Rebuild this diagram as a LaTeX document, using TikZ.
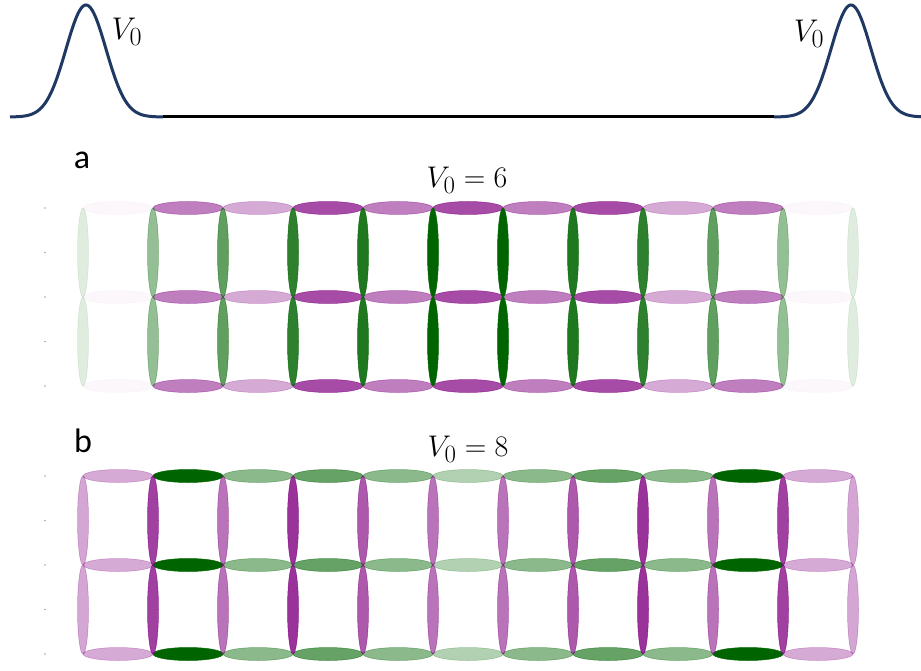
\documentclass[tikz,border=0pt]{standalone}
\usepackage{fontspec}
\newfontfamily\panelfont{Carlito}
\usepackage{tikz}
\usetikzlibrary{calc}
\definecolor{CurveNavy} {HTML}{1F3864}
\definecolor{BondPurple}{HTML}{800080}
\definecolor{BondGreen} {HTML}{006400}

\begin{document}
\begin{tikzpicture}[
  x=1pt, y=-1pt,
  hbond/.style={line width=0.5pt},
  vbond/.style={line width=0.5pt},
  tick/.style={fill=gray!70},
  vlabel/.style={font=\Huge, scale=1.2, inner sep=0pt},
]
\useasboundingbox (0,0) rectangle (921,671);

% Potential: two barriers and a flat well
\coordinate (wellL) at (163,117);
\coordinate (wellR) at (774,117);
\draw[CurveNavy, line width=3pt, domain=10:163, samples=120]
  plot (\x, {117-112*exp(-0.5*((\x-86)/20)^2)});
\draw[CurveNavy, line width=3pt, domain=774:921, samples=120]
  plot (\x, {117-112*exp(-0.5*((\x-851)/20)^2)});
\draw[black, line width=3pt] (wellL) -- (wellR);
\node[vlabel, scale=1.05] (barL) at (127,32) {$V_0$};
\node[vlabel, scale=1.05] (barR) at (809,34) {$V_0$};

% Panel labels
\node[font=\panelfont\fontsize{34}{38}\selectfont, inner sep=0pt] (labA) at (82,160) {a};
\node[font=\panelfont\fontsize{34}{38}\selectfont, inner sep=0pt] (labB) at (83,441) {b};
\node[vlabel] (titA) at (467,180) {$V_0 = 6$};
\node[vlabel] (titB) at (468,449) {$V_0 = 8$};

% Left tick dots
\foreach \y in {208,252.5,297,341.5,386,476,520.5,565,609.5,654}
  \fill[tick] (45,\y) circle [radius=0.9];

% Panel a: horizontal bonds
\foreach \a [count=\j from 0] in {0.03,0.5,0.33,0.7,0.5,0.7,0.5,0.7,0.33,0.5,0.03} {
  \foreach \y in {208,297,386}
    \filldraw[hbond, fill=BondPurple, draw=BondPurple, fill opacity=\a, draw opacity=\a]
      (118+70*\j,\y) ellipse [x radius=35, y radius=6.5];
}
% Panel a: vertical bonds
\foreach \a [count=\i from 0] in {0.12,0.42,0.62,0.82,0.88,1,1,0.88,0.82,0.62,0.42,0.12} {
  \foreach \y in {252.5,341.5}
    \filldraw[vbond, fill=BondGreen, draw=BondGreen, fill opacity=\a, draw opacity=\a]
      (83+70*\i,\y) ellipse [x radius=5.5, y radius=44.5];
}

% Panel b: horizontal bonds
\foreach \c/\a [count=\j from 0] in {BondPurple/0.33,BondGreen/1,BondGreen/0.45,BondGreen/0.6,
    BondGreen/0.45,BondGreen/0.3,BondGreen/0.45,BondGreen/0.6,BondGreen/0.45,BondGreen/1,
    BondPurple/0.33} {
  \foreach \y in {476,565,654}
    \filldraw[hbond, fill=\c, draw=\c, fill opacity=\a, draw opacity=\a]
      (118+70*\j,\y) ellipse [x radius=35, y radius=6.5];
}
% Panel b: vertical bonds
\foreach \a [count=\i from 0] in {0.35,0.75,0.55,0.8,0.65,0.55,0.55,0.65,0.8,0.55,0.75,0.35} {
  \foreach \y in {520.5,609.5}
    \filldraw[vbond, fill=BondPurple, draw=BondPurple, fill opacity=\a, draw opacity=\a]
      (83+70*\i,\y) ellipse [x radius=5.5, y radius=44.5];
}

\end{tikzpicture}
\end{document}
